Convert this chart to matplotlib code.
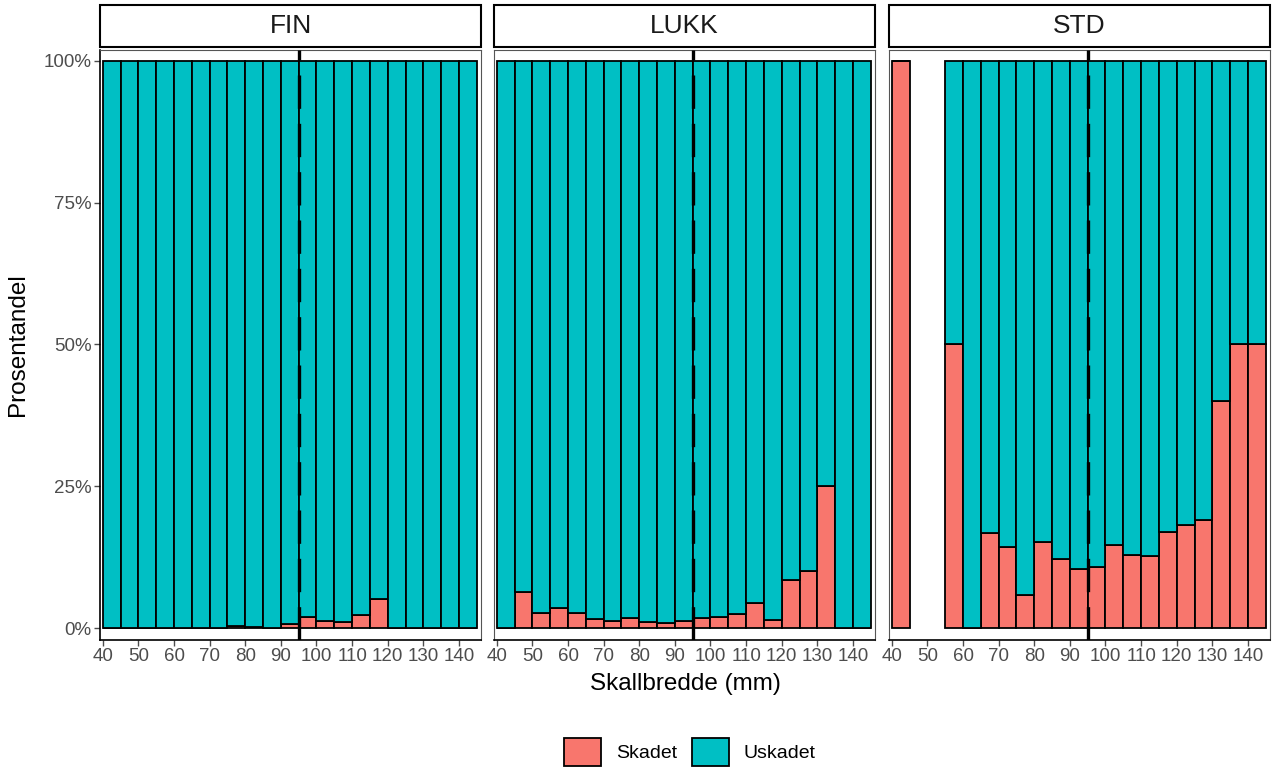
import numpy as np
import matplotlib
matplotlib.use('Agg')
import matplotlib.pyplot as plt
from matplotlib.patches import Patch, Rectangle

plt.rcParams['font.family'] = ['Liberation Sans', 'DejaVu Sans']

# Bin starts (binwidth 5 mm)
bins = [40, 45, 50, 55, 60, 65, 70, 75, 80, 85, 90, 95,
        100, 105, 110, 115, 120, 125, 130, 135, 140]
facets = ['FIN', 'LUKK', 'STD']
groups = ['Skadet', 'Uskadet']
colors = {'Skadet': '#F8766D', 'Uskadet': '#00BFC4'}

# Share of damaged (Skadet) per bin, percent; nan = no crabs in bin
skadet_fin = [0, 0, 0, 0, 0, 0, 0, 0.4, 0.2, 0.1, 0.8, 2.0,
              1.3, 1.1, 2.3, 5.2, 0, 0, 0, 0, 0]
skadet_lukk = [0, 6.4, 2.6, 3.5, 2.6, 1.6, 1.2, 1.7, 1.1, 0.9, 1.3, 1.8,
               2.0, 2.4, 4.5, 1.5, 8.4, 10.0, 25.0, 0, 0]
skadet_std = [100, np.nan, np.nan, 50, 0, 16.7, 14.3, 5.9, 15.1, 12.1, 10.4, 10.8,
              14.7, 12.8, 12.7, 16.9, 18.1, 19.0, 40.0, 50, 50]
skadet = {'FIN': skadet_fin, 'LUKK': skadet_lukk, 'STD': skadet_std}

cutoff = 95  # minimum size (mm)
binwidth = 5

W, H = 1275, 771
fig = plt.figure(figsize=(W / 100, H / 100), dpi=100)

lefts = [100, 494, 889]
pw = 381
ptop, pbot = 50, 640
grey = '#4D4D4D'

for i, (name, left) in enumerate(zip(facets, lefts)):
    ax = fig.add_axes([left / W, 1 - pbot / H, pw / W, (pbot - ptop) / H])
    s = np.array(skadet[name], dtype=float) / 100
    valid = ~np.isnan(s)
    x = np.array(bins)[valid]
    s = s[valid]
    u = 1 - s
    ax.bar(x, s, width=binwidth, align='edge', color=colors['Skadet'],
           edgecolor='black', linewidth=1.3, zorder=2)
    ax.bar(x, u, bottom=s, width=binwidth, align='edge', color=colors['Uskadet'],
           edgecolor='black', linewidth=1.3, zorder=2)
    ax.axvline(cutoff, color='black', linewidth=2.4, linestyle=(0, (10, 4.5)), zorder=3)

    ax.set_xlim(39.2, 146.2)
    ax.set_ylim(-0.021, 1.019)
    ax.set_xticks(range(40, 141, 10))
    ax.tick_params(axis='x', length=4, width=1, color=grey, pad=2,
                   labelsize=13.5, labelcolor=grey)
    if i == 0:
        ax.set_yticks([0, 0.25, 0.5, 0.75, 1.0])
        ax.set_yticklabels(['0%', '25%', '50%', '75%', '100%'])
        ax.tick_params(axis='y', length=4, width=1, color=grey, pad=2,
                       labelsize=13.5, labelcolor=grey)
    else:
        ax.set_yticks([])
    for side in ['top', 'right', 'left']:
        ax.spines[side].set_color('#555555')
        ax.spines[side].set_linewidth(0.8)
    if i == 0:
        ax.spines['left'].set_color('black')
        ax.spines['left'].set_linewidth(1.2)
    ax.spines['bottom'].set_color('black')
    ax.spines['bottom'].set_linewidth(1.2)

    # facet strip
    strip = Rectangle((left / W, 1 - 47 / H), pw / W, 42 / H, transform=fig.transFigure,
                      facecolor='white', edgecolor='black', linewidth=1.5)
    fig.add_artist(strip)
    fig.text((left + pw / 2) / W, 1 - 26 / H, name, ha='center', va='center',
             fontsize=19, color='#1A1A1A')

fig.text(685 / W, 1 - 684 / H, 'Skallbredde (mm)', ha='center', va='center', fontsize=17.5)
fig.text(18 / W, 1 - 345 / H, 'Prosentandel', ha='center', va='center',
         rotation=90, fontsize=17.5)

handles = [Patch(facecolor=colors[g], edgecolor='black', linewidth=1.3) for g in groups]
fig.legend(handles, groups, loc='center', bbox_to_anchor=(690 / W, 1 - 752 / H),
           ncol=2, frameon=False, fontsize=14, handlelength=1.9, handleheight=1.9,
           handletextpad=0.75, columnspacing=0.8)

fig.savefig('out.png', dpi=100, facecolor='white')
